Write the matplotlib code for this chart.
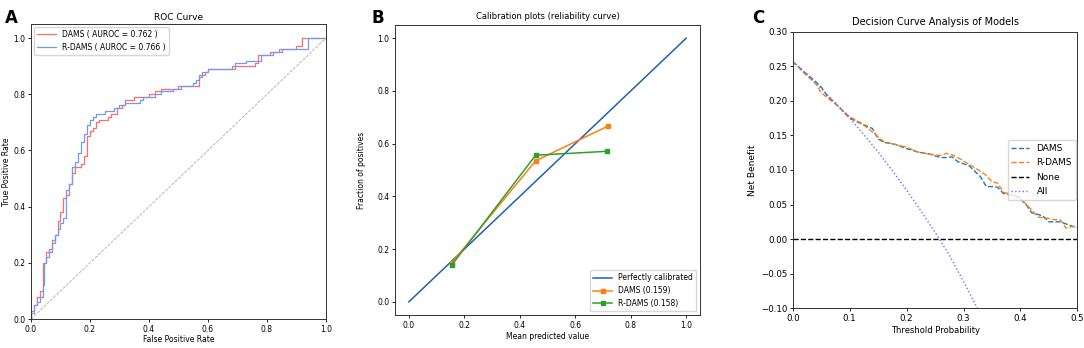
import matplotlib
matplotlib.use("Agg")
import matplotlib.pyplot as plt

# ROC curve points (fpr, tpr)
dams_fpr = [0.0, 0.0, 0.01, 0.02, 0.03, 0.04, 0.04, 0.05, 0.06, 0.07, 0.08, 0.09, 0.10, 0.10, 0.11, 0.12,
            0.13, 0.14, 0.14, 0.15, 0.17, 0.18, 0.19, 0.20, 0.21, 0.22, 0.23, 0.26, 0.27, 0.29, 0.31, 0.32,
            0.35, 0.40, 0.42, 0.44, 0.50, 0.51, 0.56, 0.57, 0.58, 0.60, 0.67, 0.68, 0.76, 0.77, 0.80, 0.81,
            0.85, 0.89, 0.90, 0.92, 1.0]
dams_tpr = [0.0, 0.03, 0.05, 0.08, 0.10, 0.12, 0.20, 0.24, 0.25, 0.28, 0.30, 0.35, 0.35, 0.38, 0.43, 0.44,
            0.48, 0.49, 0.52, 0.54, 0.55, 0.58, 0.65, 0.67, 0.68, 0.70, 0.71, 0.72, 0.73, 0.75, 0.76, 0.78,
            0.79, 0.80, 0.81, 0.82, 0.82, 0.83, 0.83, 0.86, 0.88, 0.89, 0.89, 0.90, 0.91, 0.94, 0.94, 0.95,
            0.96, 0.96, 0.97, 1.0, 1.0]
rdams_fpr = [0.0, 0.0, 0.01, 0.02, 0.03, 0.04, 0.045, 0.05, 0.06, 0.07, 0.08, 0.09, 0.10, 0.11, 0.12, 0.13,
             0.14, 0.14, 0.15, 0.16, 0.17, 0.18, 0.19, 0.20, 0.21, 0.22, 0.25, 0.28, 0.30, 0.32, 0.37, 0.38,
             0.42, 0.44, 0.48, 0.50, 0.55, 0.56, 0.57, 0.59, 0.60, 0.67, 0.69, 0.72, 0.73, 0.77, 0.78, 0.82,
             0.84, 0.88, 0.94, 0.94, 1.0]
rdams_tpr = [0.0, 0.02, 0.05, 0.06, 0.08, 0.12, 0.20, 0.22, 0.24, 0.27, 0.30, 0.32, 0.34, 0.36, 0.46, 0.48,
             0.49, 0.54, 0.56, 0.59, 0.63, 0.66, 0.69, 0.71, 0.72, 0.73, 0.74, 0.75, 0.76, 0.77, 0.78, 0.79,
             0.80, 0.81, 0.82, 0.83, 0.84, 0.85, 0.87, 0.88, 0.89, 0.89, 0.91, 0.91, 0.92, 0.92, 0.94, 0.95,
             0.96, 0.96, 0.97, 1.0, 1.0]

# calibration
cal_dams_x = [0.155, 0.457, 0.717]
cal_dams_y = [0.148, 0.535, 0.666]
cal_rdams_x = [0.155, 0.457, 0.714]
cal_rdams_y = [0.140, 0.556, 0.571]

# decision curve
dca_pt = [0.0, 0.02, 0.04, 0.05, 0.06, 0.08, 0.10, 0.12, 0.14, 0.15, 0.16, 0.18, 0.20, 0.22, 0.24, 0.26,
          0.27, 0.28, 0.29, 0.30, 0.31, 0.32, 0.33, 0.34, 0.35, 0.36, 0.37, 0.39, 0.40, 0.41, 0.42, 0.43,
          0.44, 0.45, 0.46, 0.47, 0.48, 0.49, 0.50]
dca_dams = [0.257, 0.242, 0.228, 0.220, 0.208, 0.192, 0.175, 0.167, 0.160, 0.145, 0.140, 0.137, 0.131, 0.126,
            0.123, 0.118, 0.118, 0.119, 0.112, 0.109, 0.106, 0.098, 0.090, 0.076, 0.076, 0.075, 0.066, 0.063,
            0.058, 0.050, 0.038, 0.036, 0.033, 0.025, 0.025, 0.025, 0.022, 0.019, 0.017]
dca_rdams = [0.257, 0.240, 0.225, 0.212, 0.205, 0.192, 0.177, 0.168, 0.155, 0.148, 0.141, 0.137, 0.133, 0.126,
             0.123, 0.121, 0.124, 0.122, 0.118, 0.113, 0.108, 0.103, 0.098, 0.092, 0.083, 0.081, 0.068, 0.063,
             0.060, 0.050, 0.042, 0.032, 0.031, 0.030, 0.028, 0.028, 0.016, 0.018, 0.018]
all_pt = [0.0, 0.025, 0.05, 0.075, 0.10, 0.125, 0.15, 0.175, 0.20, 0.225, 0.25, 0.275, 0.30, 0.325]
all_nb = [0.257, 0.238, 0.218, 0.197, 0.175, 0.151, 0.126, 0.099, 0.071, 0.041, 0.010, -0.023, -0.061, -0.101]

fs = 5.5
fig = plt.figure(figsize=(10.84, 3.48), dpi=100)

# ---- A: ROC
ax1 = fig.add_axes([0.0286, 0.0833, 0.2721, 0.8477])
ax1.plot(dams_fpr, dams_tpr, color="#ff6b6b", lw=0.9, drawstyle="steps-post", label="DAMS ( AUROC = 0.762 )")
ax1.plot(rdams_fpr, rdams_tpr, color="#6f9cf0", lw=0.9, drawstyle="steps-post", label="R-DAMS ( AUROC = 0.766 )")
ax1.plot([0, 1], [0, 1], color="#aaaaaa", ls="--", lw=0.6)
ax1.set_xlim(0, 1)
ax1.set_ylim(0, 1.05)
ax1.set_title("ROC Curve", fontsize=6.5, pad=3)
ax1.set_xlabel("False Positive Rate", fontsize=fs, labelpad=1)
ax1.set_ylabel("True Positive Rate", fontsize=fs, labelpad=1.5)
ax1.legend(loc="upper left", fontsize=fs, handlelength=2.5, borderaxespad=0.4, framealpha=0.8)
fig.text(0.005, 0.975, "A", fontsize=12, fontweight="bold", va="top")

# ---- B: calibration
ax2 = fig.add_axes([0.3644, 0.0948, 0.2814, 0.8333])
ax2.plot([0, 1], [0, 1], color="#1f62aa", lw=1.1, label="Perfectly calibrated")
ax2.plot(cal_dams_x, cal_dams_y, "s-", color="#ff7f0e", ms=3.5, lw=1.1, label="DAMS (0.159)")
ax2.plot(cal_rdams_x, cal_rdams_y, "s-", color="#2ca02c", ms=3.5, lw=1.1, label="R-DAMS (0.158)")
ax2.set_xlim(-0.05, 1.05)
ax2.set_ylim(-0.05, 1.05)
ax2.set_title("Calibration plots (reliability curve)", fontsize=6, pad=4)
ax2.set_xlabel("Mean predicted value", fontsize=fs, labelpad=2)
ax2.set_ylabel("Fraction of positives", fontsize=fs, labelpad=8)
ax2.legend(loc="lower right", fontsize=fs, handlelength=2.5, framealpha=0.8)
fig.text(0.343, 0.975, "B", fontsize=12, fontweight="bold", va="top")

# ---- C: decision curve
ax3 = fig.add_axes([0.7313, 0.1141, 0.2626, 0.7948])
ax3.plot(dca_pt, dca_dams, color="#1f77b4", ls="--", lw=1.0, label="DAMS")
ax3.plot(dca_pt, dca_rdams, color="#ff7f0e", ls="--", lw=1.0, label="R-DAMS")
ax3.axhline(0, color="black", ls="--", lw=1.0, label="None")
ax3.plot(all_pt, all_nb, color="#6b6bff", ls=":", lw=1.0, label="All")
ax3.set_xlim(0, 0.5)
ax3.set_ylim(-0.1, 0.3)
ax3.set_title("Decision Curve Analysis of Models", fontsize=7, pad=5)
ax3.set_xlabel("Threshold Probability", fontsize=6, labelpad=2)
ax3.set_ylabel("Net Benefit", fontsize=6.5, labelpad=3)
ax3.legend(loc="center right", fontsize=6.5, handlelength=2.0, labelspacing=0.6,
           framealpha=0.8, borderaxespad=0.2)
fig.text(0.694, 0.975, "C", fontsize=12, fontweight="bold", va="top")

for ax in (ax1, ax2):
    ax.tick_params(labelsize=fs, length=2.5, width=0.6, pad=1.5)
ax3.tick_params(labelsize=6.2, length=2.5, width=0.6, pad=1.5)
for ax in (ax1, ax2, ax3):
    for s in ax.spines.values():
        s.set_linewidth(0.7)
        s.set_color("#333333")

fig.savefig("out.png", dpi=100)
